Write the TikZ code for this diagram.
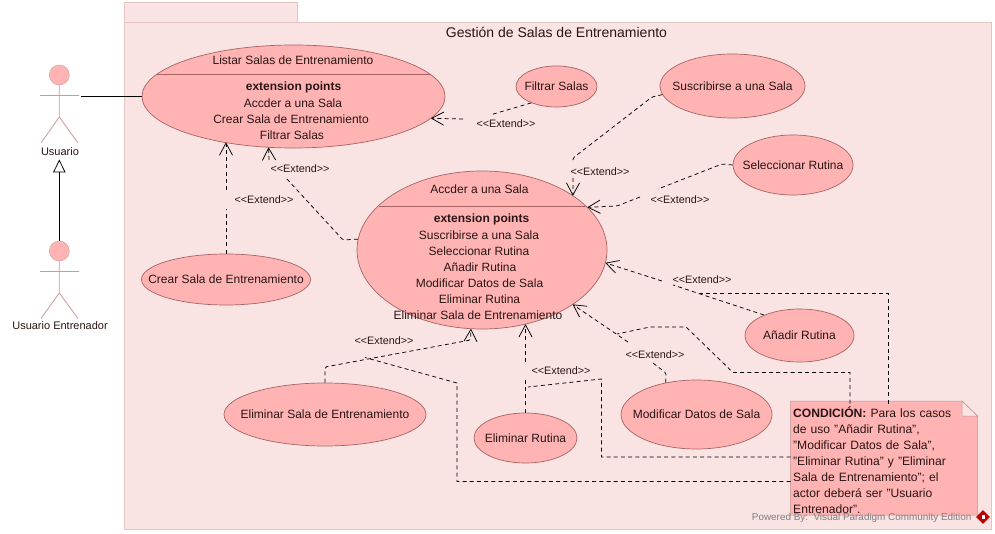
\documentclass[tikz,border=0pt]{standalone}
\usepackage{fontspec}
\setmainfont{Liberation Sans}
\usetikzlibrary{shapes.geometric,arrows.meta}
\definecolor{pkgfill}{HTML}{F9E3E3}
\definecolor{pkgline}{HTML}{E6C4C4}
\definecolor{ucfill}{HTML}{FFB3B3}
\definecolor{ucline}{HTML}{A86464}
\definecolor{actline}{HTML}{CC9A9A}
\definecolor{txt}{HTML}{2A1515}
\newcommand{\mainf}{\fontsize{12}{14}\selectfont}
\newcommand{\extl}{<{}<Extend>{}>}
\tikzset{
  uc/.style={shape=ellipse,draw=ucline,fill=ucfill,inner sep=0pt,line width=.7pt,
    label={[font=\mainf,text=txt]center:#1}},
  uc/.default={},
  tx/.style={font=\mainf,text=txt,inner sep=0pt},
  ext/.style={font=\fontsize{10.8}{12}\selectfont,text=txt,inner sep=0pt},
  dep/.style={draw=black,line width=.75pt,dash pattern=on 4pt off 3.2pt,rounded corners=1.5pt,
    -{Straight Barb[length=12pt,width=13pt,line width=.75pt,round=false]}},
  nlink/.style={draw=black,line width=.75pt,dash pattern=on 4pt off 3.2pt},
  actorline/.style={draw=actline,line width=.8pt},
  head/.style={circle,fill=ucfill,draw=actline,line width=.4pt,minimum size=20pt,inner sep=0pt},
  divider/.style={draw=ucline,line width=.7pt},
  actlabel/.style={font=\fontsize{11}{13}\selectfont,text=txt,inner sep=0pt}
}
\begin{document}
\begin{tikzpicture}[x=1pt,y=-1pt]
\useasboundingbox (0,0) rectangle (995,534);
% package
\fill[white] (0,0) rectangle (995,534);
\draw[draw=pkgline,fill=pkgfill,line width=.7pt] (124.5,2.5) rectangle (297.5,22.5);
\draw[draw=pkgline,fill=pkgfill,line width=.7pt] (124.5,22.5) rectangle (991,529);
\node[font=\fontsize{14}{16}\selectfont,text=txt,inner sep=0pt] (pkgtitle) at (556.5,32) {Gestión de Salas de Entrenamiento};

% use cases
\node[uc,minimum width=303pt,minimum height=103pt] (list) at (293.5,96.5) {};
\node[uc,minimum width=250pt,minimum height=158pt] (acc) at (482,250) {};
\node[uc={Filtrar Salas},minimum width=81pt,minimum height=41pt] (filt) at (556.5,86.5) {};
\node[uc={Suscribirse a una Sala},minimum width=145pt,minimum height=64pt] (sus) at (732.5,86) {};
\node[uc={Seleccionar Rutina},minimum width=120pt,minimum height=60pt] (sel) at (793,165) {};
\node[uc={Crear Sala de Entrenamiento},minimum width=169pt,minimum height=51pt] (crear) at (226,279.5) {};
\node[uc={Añadir Rutina},minimum width=109pt,minimum height=53pt] (anad) at (799.5,335.5) {};
\node[uc={Modificar Datos de Sala},minimum width=151pt,minimum height=69pt] (modi) at (696.5,414.5) {};
\node[uc={Eliminar Rutina},minimum width=103pt,minimum height=50pt] (elru) at (525.5,438) {};
\node[uc={Eliminar Sala de Entrenamiento},minimum width=202pt,minimum height=63pt] (elsa) at (325,414.5) {};

% compartments
\coordinate (la) at (156,74.5); \coordinate (lb) at (431,74.5);
\draw[divider] (la) -- (lb);
\coordinate (aa) at (379,206); \coordinate (ab) at (586.5,206);
\draw[divider] (aa) -- (ab);
\node[tx] (l0) at (293,60) {Listar Salas de Entrenamiento};
\node[tx,font=\mainf\bfseries] (l1) at (293.5,87) {extension points};
\node[tx] (l2) at (293,103) {Accder a una Sala};
\node[tx] (l3) at (291,119) {Crear Sala de Entrenamiento};
\node[tx] (l4) at (292,135) {Filtrar Salas};
\node[tx] (a0) at (479.5,189) {Accder a una Sala};
\node[tx,font=\mainf\bfseries] (a1) at (481.5,219.5) {extension points};
\node[tx] (a2) at (479,235) {Suscribirse a una Sala};
\node[tx] (a3) at (479,251) {Seleccionar Rutina};
\node[tx] (a4) at (480,267) {Añadir Rutina};
\node[tx] (a5) at (479.5,283) {Modificar Datos de Sala};
\node[tx] (a6) at (479.5,299) {Eliminar Rutina};
\node[tx] (a7) at (478,315) {Eliminar Sala de Entrenamiento};

% actors
\node[head] (h1) at (59.3,75) {};
\draw[actorline] (h1.south) -- (59.3,117) (40,95.5) -- (79,95.5) (41,143) -- (59.3,117) -- (78,143);
\node[actlabel] (u1) at (60,151.5) {Usuario};
\node[head] (h2) at (59.3,251) {};
\draw[actorline] (h2.south) -- (59.3,293) (40,271.5) -- (79,271.5) (41,318.5) -- (59.3,293) -- (78,318.5);
\node[actlabel] (u2) at (60,325.5) {Usuario Entrenador};
\coordinate (assoc) at (81,96.5);
\draw[black,line width=.75pt] (assoc) -- (list.west |- assoc);
\coordinate (gtip) at (59.3,159.5);
\draw[black,line width=.75pt,-{Triangle[open,length=13pt,width=12.5pt,line width=.75pt]}] (h2.north) -- (gtip);

% note
\coordinate (nNW) at (790.5,401);
\fill[fill=ucfill] (790.5,401) -- (962,401) -- (977.5,416) -- (977.5,515) -- (790.5,515) -- cycle;
\draw[draw=ucline!70,line width=.5pt] (790.5,515) -- (790.5,401) -- (962,401) -- (977.5,416) -- (977.5,515) -- cycle;
\draw[draw=ucline!70,fill=pkgfill,line width=.5pt] (962,401) -- (977.5,416) -- (962,416) -- cycle;
\node[anchor=north west,inner sep=0pt,text width=185pt,align=left,font=\fontsize{12.1}{16}\selectfont,text=txt,minimum height=113pt] (note) at (793,403.5)
 {\textbf{CONDICIÓN:} Para los casos\\de uso "Añadir Rutina",\\"Modificar Datos de Sala",\\"Eliminar Rutina" y "Eliminar\\Sala de Entrenamiento"; el\\actor deberá ser "Usuario\\Entrenador".};

% extend dependencies
\coordinate (f1) at (490,115); \coordinate (f2) at (463,119);
\draw[dep] (filt.213) -- (f1) (f2) -- (list.-9.2);
\coordinate (c1) at (226,209); \coordinate (c2) at (226,190);
\draw[dep] (crear.north) -- (c1) (c2) -- (crear.north |- list.214);
\coordinate (g1) at (343,240); \coordinate (g2) at (286,178); \coordinate (g3) at (269,160);
\draw[dep] (acc.175.4) -- (g1) -- (g2) (g3) -- (list.244.6);
\coordinate (s1) at (652,97); \coordinate (s2) at (573,158); \coordinate (s3) at (573,163); \coordinate (s4) at (573,178);
\draw[dep] (sus.187.9) -- (s1) -- (s2) -- (s3) (s4) -- (acc.31.1);
\coordinate (e1) at (722,164); \coordinate (e2) at (658,189); \coordinate (e3) at (640,197); \coordinate (e4) at (617,206);
\draw[dep] (sel.west) -- (e1) -- (e2) (e3) -- (e4) -- (acc.22.7);
\coordinate (n1) at (673,285); \coordinate (n2) at (662,281);
\draw[dep] (anad.150) -- (n1) (n2) -- (acc.-6.6);
\coordinate (m1) at (666,373); \coordinate (m2) at (653,363); \coordinate (m3) at (628,342);
\draw[dep] (modi.134) -- (m1) -- (m2) (m3) -- (acc.-31);
\coordinate (r1) at (525.5,378); \coordinate (r2) at (525.5,362);
\draw[dep] (elru.north) -- (r1) (r2) -- (elru.north |- acc.-60.5);
\coordinate (t1) at (325,367); \coordinate (t2) at (470.5,340);
\draw[dep] (elsa.north) -- (t1) -- (t2) -- (acc.-98.3);

% note links
\coordinate (j1) at (700,293.5); \coordinate (j1b) at (888,293.5);
\draw[nlink] (j1b |- note.north) -- (j1b) -- (j1);
\coordinate (j2) at (617,334); \coordinate (j2a) at (850,372.5); \coordinate (j2b) at (733,372.5); \coordinate (j2c) at (686,327); \coordinate (j2d) at (650,327);
\draw[nlink] (j2a |- note.north) -- (j2a) -- (j2b) -- (j2c) -- (j2d) -- (j2);
\coordinate (j3) at (528,387); \coordinate (j3a) at (601.5,457); \coordinate (j3b) at (601.5,379);
\draw[nlink] (nNW |- j3a) -- (j3a) -- (j3b) -- (j3);
\coordinate (j4) at (365,357.5); \coordinate (j4a) at (457,481.5); \coordinate (j4b) at (457,383);
\draw[nlink] (nNW |- j4a) -- (j4a) -- (j4b) -- (j4);

% extend labels
\node[ext] (x1) at (506,123.5) {\extl};
\node[ext] (x2) at (264,199.5) {\extl};
\node[ext] (x3) at (300,168.5) {\extl};
\node[ext] (x4) at (600,171.5) {\extl};
\node[ext] (x5) at (680,199.5) {\extl};
\node[ext] (x6) at (702,279.5) {\extl};
\node[ext] (x7) at (655,354.5) {\extl};
\node[ext] (x8) at (561,370.5) {\extl};
\node[ext] (x9) at (384,340.5) {\extl};

% watermark
\node[font=\fontsize{9.9}{12}\selectfont,text=black!50,inner sep=0pt,anchor=east] (wm) at (971.5,518) {Powered By:\ \ Visual Paradigm Community Edition};
\node[diamond,fill=red!75!black,minimum size=14pt,inner sep=0pt] (logo) at (983,517) {};
\fill[white] (logo.center) ++(-1.5,-2.5) rectangle ++(3,4);
\end{tikzpicture}
\end{document}
